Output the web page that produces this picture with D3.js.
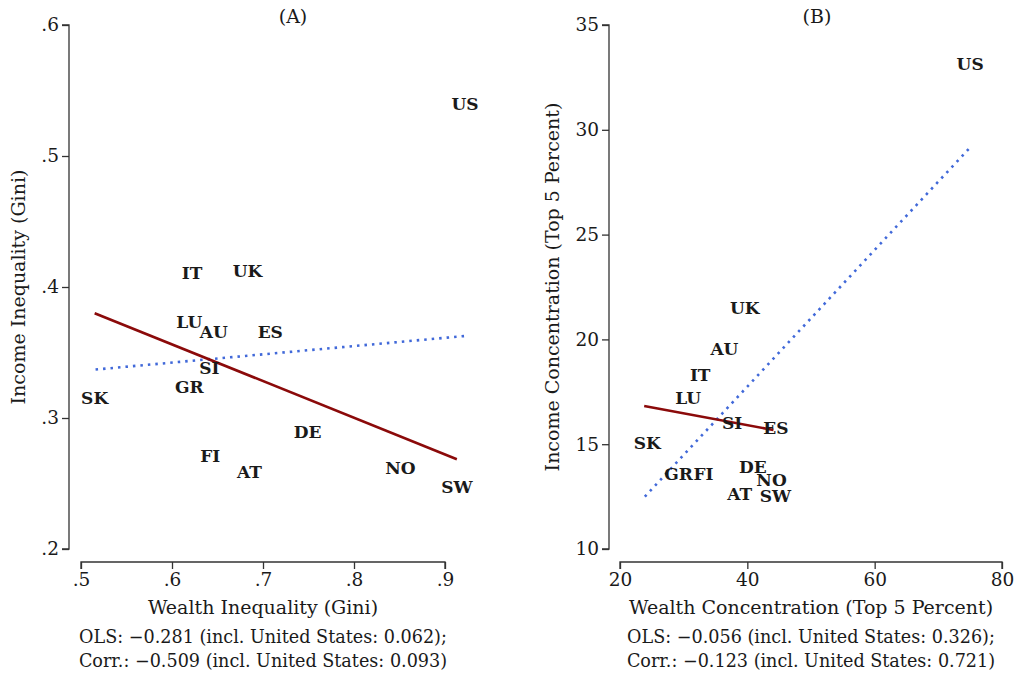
<!DOCTYPE html>
<html>
<head>
<meta charset="utf-8">
<script src="https://cdn.jsdelivr.net/npm/d3@7"></script>
<style>
  body { margin: 0; background: #fff; }
  svg text { font-family: "DejaVu Serif", serif; fill: #1a1a1a; }
</style>
</head>
<body>
<svg id="chart" width="1017" height="675"></svg>
<script>
// country codes, same order in both panels
const countries = ["US","IT","UK","LU","AU","ES","SI","GR","SK","DE","FI","AT","NO","SW"];

// panel A: wealth gini (x) vs income gini (y)
const wealthGini = [0.922,0.622,0.683,0.619,0.646,0.708,0.641,0.619,0.515,0.749,0.642,0.685,0.851,0.913];
const incomeGini = [0.540,0.411,0.412,0.373,0.366,0.366,0.338,0.324,0.315,0.289,0.271,0.259,0.262,0.247];

// panel B: wealth top 5% (x) vs income top 5% (y)
const wealthTop5 = [75.0,32.6,39.6,30.7,36.4,44.1,38.2,29.2,23.8,40.85,33.1,39.4,43.5,44.1];
const incomeTop5 = [33.12,18.30,21.51,17.22,19.54,15.76,16.03,13.56,15.07,13.93,13.56,12.61,13.30,12.55];
const labelShiftB = [0,0,0,0,0,0.4,-0.6,0,0.5,0,0,-0.6,0.3,0.3];

// fitted lines (excl. US = solid, incl. US = dotted)
const fitA_excl = [[0.515,0.380],[0.913,0.2685]];
const fitA_incl = [[0.516,0.337],[0.922,0.3626]];
const fitB_excl = [[23.8,16.82],[44.1,15.68]];
const fitB_incl = [[23.9,12.50],[75.0,29.16]];

const yTicksA = [0.2,0.3,0.4,0.5,0.6];
const xTicksA = [0.5,0.6,0.7,0.8,0.9];
const yTicksB = [10,15,20,25,30,35];
const xTicksB = [20,40,60,80];

const svg = d3.select("#chart");

function panel(cfg) {
  const g = svg.append("g");
  const x = d3.scaleLinear().domain(cfg.xDomain).range(cfg.xRange);
  const y = d3.scaleLinear().domain(cfg.yDomain).range(cfg.yRange);

  // y axis
  const ya = g.append("g").attr("transform", `translate(${cfg.yAxisX},0)`)
    .call(d3.axisLeft(y).tickValues(cfg.yTicks).tickFormat(cfg.yFmt).tickSize(7).tickPadding(3));
  // x axis
  const xa = g.append("g").attr("transform", `translate(0,${cfg.xAxisY})`)
    .call(d3.axisBottom(x).tickValues(cfg.xTicks).tickFormat(cfg.xFmt).tickSize(7).tickPadding(4));
  [ya, xa].forEach(a => {
    a.select(".domain").attr("stroke", "#333").attr("stroke-width", 1.3);
    a.selectAll(".tick line").attr("stroke", "#333").attr("stroke-width", 1.3);
    a.selectAll(".tick text").style("font-size", "18.5px").attr("fill", "#1a1a1a");
  });
  ya.select(".domain").attr("d", `M-7,${y(cfg.yDomain[1])}H0V${y(cfg.yDomain[0])}H-7`);
  xa.select(".domain").attr("d", `M${x(cfg.xTicks[0])},7V0H${x(cfg.xTicks[cfg.xTicks.length-1])}V7`);

  const line = d3.line().x(d => x(d[0])).y(d => y(d[1]));
  g.append("path").attr("d", line(cfg.fitIncl)).attr("fill", "none")
    .attr("stroke", "#4169d9").attr("stroke-width", 2.6).attr("stroke-dasharray", "2.5,5");
  g.append("path").attr("d", line(cfg.fitExcl)).attr("fill", "none")
    .attr("stroke", "#8b0a0a").attr("stroke-width", 2.6);

  g.selectAll(".lab").data(countries).enter().append("text")
    .attr("x", (d, i) => x(cfg.xs[i] + (cfg.shift ? cfg.shift[i] : 0)))
    .attr("y", (d, i) => y(cfg.ys[i]))
    .attr("text-anchor", "middle").attr("dominant-baseline", "central")
    .style("font-size", "17px").style("font-weight", "bold")
    .text(d => d);

  const cx = (cfg.xRange[0] + cfg.xRange[1]) / 2;
  g.append("text").attr("x", cx + cfg.titleDx).attr("y", 23).attr("text-anchor", "middle")
    .style("font-size", "19px").text(cfg.title);
  g.append("text").attr("transform", `translate(${cfg.yTitleX},287) rotate(-90)`)
    .attr("text-anchor", "middle").style("font-size", "19px").text(cfg.yTitle);
  g.append("text").attr("x", cx).attr("y", 614).attr("text-anchor", "middle")
    .style("font-size", "19px").text(cfg.xTitle);
  cfg.notes.forEach((t, i) => {
    g.append("text").attr("x", cx).attr("y", 643 + i * 24).attr("text-anchor", "middle")
      .style("font-size", "17.6px").text(t);
  });
}

panel({
  xDomain: [0.5, 0.9], xRange: [81, 445],
  yDomain: [0.2, 0.6], yRange: [549, 25],
  yAxisX: 69, xAxisY: 562,
  xTicks: xTicksA, yTicks: yTicksA,
  xFmt: d => d3.format(".1f")(d).replace(/^0/, ""),
  yFmt: d => d3.format(".1f")(d).replace(/^0/, ""),
  xs: wealthGini, ys: incomeGini,
  fitExcl: fitA_excl, fitIncl: fitA_incl,
  title: "(A)", titleDx: 30, yTitleX: 25,
  yTitle: "Income Inequality (Gini)",
  xTitle: "Wealth Inequality (Gini)",
  notes: ["OLS: \u22120.281 (incl. United States: 0.062);", "Corr.: \u22120.509 (incl. United States: 0.093)"]
});

panel({
  xDomain: [20, 80], xRange: [620, 1002],
  yDomain: [10, 35], yRange: [549, 25],
  yAxisX: 609, xAxisY: 562,
  xTicks: xTicksB, yTicks: yTicksB,
  xFmt: d3.format("d"), yFmt: d3.format("d"),
  xs: wealthTop5, ys: incomeTop5, shift: labelShiftB,
  fitExcl: fitB_excl, fitIncl: fitB_incl,
  title: "(B)", titleDx: 6, yTitleX: 559,
  yTitle: "Income Concentration (Top 5 Percent)",
  xTitle: "Wealth Concentration (Top 5 Percent)",
  notes: ["OLS: \u22120.056 (incl. United States: 0.326);", "Corr.: \u22120.123 (incl. United States: 0.721)"]
});
</script>
</body>
</html>
